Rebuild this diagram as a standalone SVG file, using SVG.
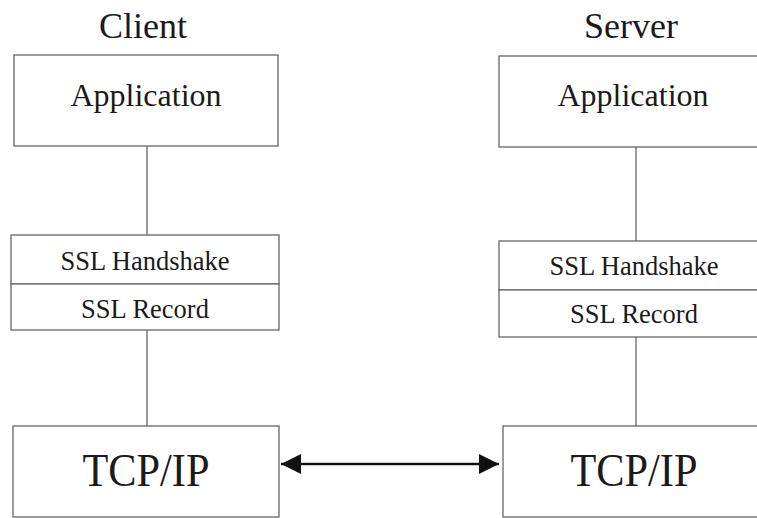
<svg xmlns="http://www.w3.org/2000/svg" width="757" height="518" viewBox="0 0 757 518">
<style>
.box{fill:#fff;stroke:#666;stroke-width:1.3}
.t{font-family:"Liberation Serif","Times New Roman",serif;fill:#1a1a1a;text-anchor:middle}
.h{font-size:36px}
.a{font-size:32px}
.s{font-size:26.5px}
.p{font-size:46px}
.c{stroke:#555;stroke-width:1.2;fill:none}
.arr{stroke:#111;stroke-width:2.4;fill:none}
</style>
<defs>
<marker id="ah" viewBox="0 0 10 10" refX="10" refY="5" markerWidth="20" markerHeight="20" markerUnits="userSpaceOnUse" orient="auto-start-reverse">
<path d="M0,0 L10,5 L0,10 Z" fill="#111"/>
</marker>
</defs>
<rect width="757" height="518" fill="#fff"/>
<text class="t h" x="143" y="38">Client</text>
<text class="t h" x="631" y="38">Server</text>
<g id="connectors">
<line class="c" x1="147" y1="146" x2="147" y2="235"/>
<line class="c" x1="147" y1="330" x2="147" y2="426"/>
<line class="c" x1="636" y1="147" x2="636" y2="241"/>
<line class="c" x1="636" y1="337" x2="636" y2="426"/>
<line class="arr" x1="281" y1="464" x2="499" y2="464" marker-start="url(#ah)" marker-end="url(#ah)"/>
</g>
<g id="client-app">
<rect class="box" x="14" y="55" width="264" height="91"/>
<text class="t a" x="146" y="106">Application</text>
</g>
<g id="client-ssl-handshake">
<rect class="box" x="11" y="235" width="268" height="49"/>
<text class="t s" x="145" y="270">SSL Handshake</text>
</g>
<g id="client-ssl-record">
<rect class="box" x="11" y="284" width="268" height="46"/>
<text class="t s" x="145" y="318">SSL Record</text>
</g>
<g id="client-tcp">
<rect class="box" x="13" y="426" width="266" height="91"/>
<text class="t p" x="146" y="486" textLength="127" lengthAdjust="spacingAndGlyphs">TCP/IP</text>
</g>
<g id="server-app">
<rect class="box" x="499" y="56" width="270" height="91"/>
<text class="t a" x="633" y="106">Application</text>
</g>
<g id="server-ssl-handshake">
<rect class="box" x="499" y="241" width="270" height="49"/>
<text class="t s" x="634" y="275">SSL Handshake</text>
</g>
<g id="server-ssl-record">
<rect class="box" x="499" y="290" width="270" height="47"/>
<text class="t s" x="634" y="323">SSL Record</text>
</g>
<g id="server-tcp">
<rect class="box" x="503" y="426" width="270" height="91"/>
<text class="t p" x="634" y="486" textLength="127" lengthAdjust="spacingAndGlyphs">TCP/IP</text>
</g>
</svg>
